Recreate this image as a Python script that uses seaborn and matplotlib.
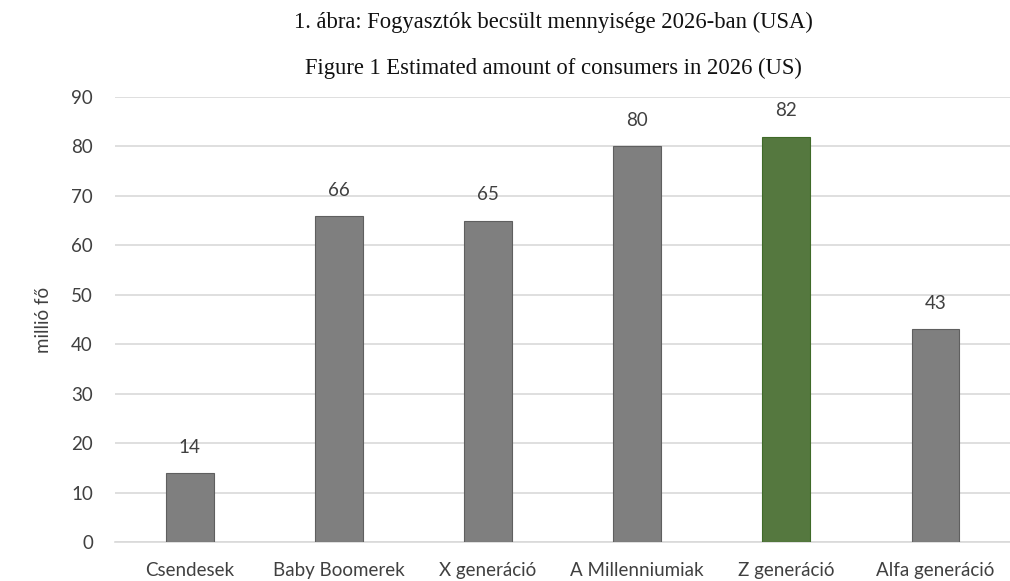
import matplotlib
matplotlib.use("Agg")
import matplotlib.pyplot as plt
import seaborn as sns
import pandas as pd

categories = ["Csendesek", "Baby Boomerek", "X generáció", "A Millenniumiak", "Z generáció", "Alfa generáció"]
values = [14, 66, 65, 80, 82, 43]
bar_colors = ["#7f7f7f", "#7f7f7f", "#7f7f7f", "#7f7f7f", "#538135", "#7f7f7f"]
yticks = [0, 10, 20, 30, 40, 50, 60, 70, 80, 90]

title_hu = "1. ábra: Fogyasztók becsült mennyisége 2026-ban (USA)"
title_en = "Figure 1 Estimated amount of consumers in 2026 (US)"
ylabel = "millió fő"

sns.set_theme(style="white")
plt.rcParams["font.family"] = ["Lato", "DejaVu Sans"]

df = pd.DataFrame({"kategoria": categories, "ertek": values})

fig = plt.figure(figsize=(10.1, 5.81), dpi=100)
ax = fig.add_axes([0.114, 0.067, 0.886, 0.766])

sns.barplot(data=df, x="kategoria", y="ertek", hue="kategoria",
            palette=dict(zip(categories, bar_colors)), width=0.32,
            legend=False, ax=ax, zorder=3)
for patch, c in zip(ax.patches, bar_colors):
    patch.set_edgecolor("#5f5f5f" if c == "#7f7f7f" else "#3f6a28")
    patch.set_linewidth(0.8)

ax.set_ylim(0, 90)
ax.set_xlim(-0.5, len(categories) - 0.5)
ax.set_yticks(yticks)
ax.yaxis.grid(True, color="#d9d9d9", linewidth=1.2, zorder=0)
ax.set_axisbelow(True)
for s in ["top", "right", "left"]:
    ax.spines[s].set_visible(False)
ax.spines["bottom"].set_color("#d9d9d9")
ax.spines["bottom"].set_linewidth(1.2)
ax.tick_params(axis="both", length=0, labelsize=13.5, colors="#404040")
ax.tick_params(axis="y", pad=16)
ax.tick_params(axis="x", pad=14)
ax.set_xlabel("")
ax.set_ylabel(ylabel, fontsize=13.5, color="#404040", labelpad=14)

for i, v in enumerate(values):
    ax.annotate(str(v), (i, v), xytext=(0, 18.5), textcoords="offset points",
                ha="center", va="center", fontsize=13.5, color="#404040")

fig.text(0.548, 0.962, title_hu, ha="center", va="center", fontsize=16.3,
         family=["Liberation Serif"], color="#111111")
fig.text(0.548, 0.883, title_en, ha="center", va="center", fontsize=16.3,
         family=["Liberation Serif"], color="#111111")

fig.savefig("out.png", dpi=100, facecolor="white")
